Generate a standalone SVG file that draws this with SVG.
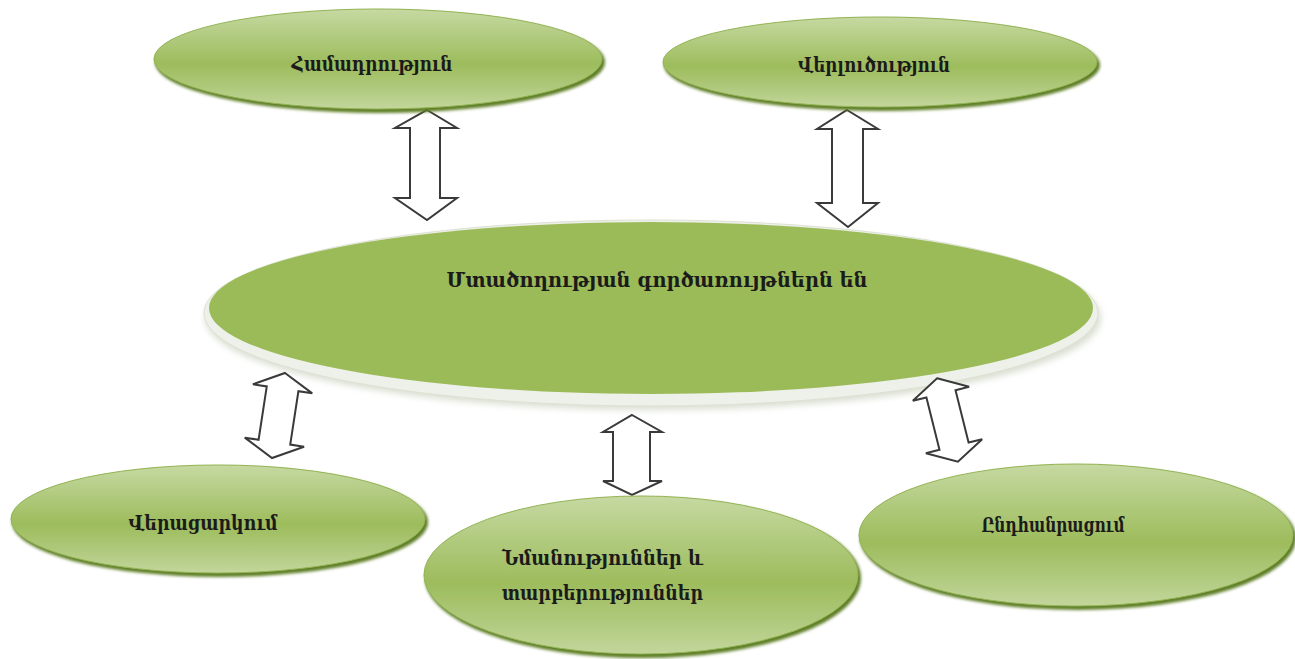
<svg xmlns="http://www.w3.org/2000/svg" width="1295" height="659" viewBox="0 0 1295 659">
<defs>
<linearGradient id="gEl" x1="0" y1="0" x2="0" y2="1">
<stop offset="0" stop-color="#c6d9a2"/>
<stop offset="0.25" stop-color="#b3cc82"/>
<stop offset="0.55" stop-color="#9dbc5c"/>
<stop offset="0.8" stop-color="#b0ca7e"/>
<stop offset="1" stop-color="#c3d69c"/>
</linearGradient>
<filter id="blur2" x="-10%" y="-20%" width="120%" height="140%"><feGaussianBlur stdDeviation="1.5"/></filter>
<filter id="blur3" x="-10%" y="-20%" width="120%" height="140%"><feGaussianBlur stdDeviation="3"/></filter>
</defs>
<style>
.sh{fill:#5f7f26;filter:url(#blur2)}
.el{fill:url(#gEl);stroke:#94b455;stroke-width:1}
.t{font-family:"DejaVu Serif Condensed","DejaVu Serif","DejaVu Sans",serif;font-size:20px;fill:#1b1b1b;font-weight:bold}
.arr{fill:#ffffff;stroke:#3a3a3a;stroke-width:2;stroke-linejoin:miter}
</style>
<rect width="1295" height="659" fill="#ffffff"/>

<g id="center">
<ellipse cx="653" cy="318" rx="448" ry="92" fill="#b7c0a6" opacity="0.5" filter="url(#blur3)"/>
<ellipse cx="651" cy="313" rx="447" ry="93" fill="#eef0ea" stroke="#dde2d3" stroke-width="1"/>
<ellipse cx="651" cy="308" rx="442" ry="86" fill="#9bbb59"/>
<text class="t" x="657" y="287" text-anchor="middle" textLength="421" lengthAdjust="spacingAndGlyphs">Մտածողության գործառույթներն են</text>
</g>

<g id="connectors">
<path class="arr" d="M427,110 L457,128 L440,128 L440,198 L457,198 L427,220 L395,198 L410,198 L410,128 L395,128 Z"/>
<path class="arr" d="M847,110 L878,129 L863,129 L863,203 L878,203 L848,227 L817,203 L832,203 L832,129 L817,129 Z"/>
<path class="arr" transform="translate(278.5,415.5) rotate(8.7)" d="M0,-43 L30,-27 L16,-27 L16,27 L30,27 L0,43 L-30,27 L-16,27 L-16,-27 L-30,-27 Z"/>
<path class="arr" d="M632,415 L662,432 L650,432 L650,481 L662,481 L632,495 L603,481 L613,481 L613,432 L603,432 Z"/>
<path class="arr" transform="translate(947.5,420) rotate(-14)" d="M0,-43 L29,-27 L15,-27 L15,27 L29,27 L0,43 L-29,27 L-15,27 L-15,-27 L-29,-27 Z"/>
</g>

<g id="n1">
<ellipse class="sh" cx="380" cy="62" rx="225" ry="51"/>
<ellipse class="el" cx="378" cy="59" rx="224" ry="50"/>
<text class="t" x="372" y="71" text-anchor="middle" textLength="161" lengthAdjust="spacingAndGlyphs">Համադրություն</text>
</g>

<g id="n2">
<ellipse class="sh" cx="882" cy="65" rx="218" ry="46"/>
<ellipse class="el" cx="880" cy="62" rx="217" ry="45"/>
<text class="t" x="874" y="72" text-anchor="middle" textLength="152" lengthAdjust="spacingAndGlyphs">Վերլուծություն</text>
</g>

<g id="n3">
<ellipse class="sh" cx="220" cy="522" rx="208" ry="55"/>
<ellipse class="el" cx="218" cy="519" rx="207" ry="54"/>
<text class="t" x="203" y="530" text-anchor="middle" textLength="149" lengthAdjust="spacingAndGlyphs">Վերացարկում</text>
</g>

<g id="n4">
<ellipse class="sh" cx="643" cy="578" rx="218" ry="80"/>
<ellipse class="el" cx="641" cy="575" rx="217" ry="79"/>
<text class="t" x="502" y="565" textLength="201" lengthAdjust="spacingAndGlyphs">Նմանություններ և</text>
<text class="t" x="502" y="600" textLength="201" lengthAdjust="spacingAndGlyphs">տարբերություններ</text>
</g>

<g id="n5">
<ellipse class="sh" cx="1078" cy="538" rx="218" ry="72"/>
<ellipse class="el" cx="1076" cy="535" rx="217" ry="71"/>
<text class="t" x="1053" y="532" text-anchor="middle" textLength="143" lengthAdjust="spacingAndGlyphs">Ընդհանրացում</text>
</g>
</svg>
